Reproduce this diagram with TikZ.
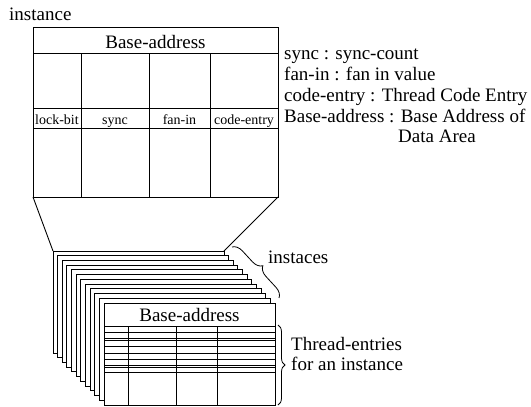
\documentclass[tikz,border=0pt]{standalone}
\usepackage{fontspec}
\setmainfont{Liberation Serif}[Ligatures=TeX]
\newfontfamily\tms{Liberation Serif}
\usetikzlibrary{decorations.pathreplacing}
\begin{document}
\begin{tikzpicture}[x=1pt,y=-1pt,
  box/.style={draw, line width=0.9pt, fill=white, inner sep=0pt, outer sep=0pt, anchor=north west},
  big/.style={font=\tms\fontsize{19}{21}\selectfont, inner sep=0pt},
  small/.style={font=\tms\fontsize{14}{16}\selectfont, inner sep=0pt},
  rule/.style={line width=0.9pt},
  fine/.style={line width=0.8pt},
  bracedeco/.style={decorate, decoration={brace, amplitude=#1}, line width=0.8pt}]
\useasboundingbox (0,0) rectangle (531,407);

% single instance record
\node[big, anchor=base west] (title) at (9,20) {instance};
\node[box, minimum width=245pt, minimum height=170pt] (inst) at (33,27) {};
\draw[rule] (33,53) -- (278,53);
\draw[rule] (33,108) -- (278,108);
\draw[rule] (33,128) -- (278,128);
\foreach \x in {81,149,210} \draw[rule] (\x,53) -- (\x,197);
\node[big, anchor=base] (ba) at (155.5,48) {Base-address};
\node[small, anchor=base] (lb) at (57,124) {lock-bit};
\node[small, anchor=base] (sy) at (115,124) {sync};
\node[small, anchor=base] (fi) at (179.5,124) {fan-in};
\node[small, anchor=base] (ce) at (244,124) {code-entry};

% legend
\node[big, anchor=base west] (l1) at (284,59.5) {sync : sync-count};
\node[big, anchor=base west] (l2) at (284,80.5) {fan-in : fan in value};
\node[big, anchor=base west] (l3) at (284,101.5) {code-entry : Thread Code Entry};
\node[big, anchor=base west] (l4) at (284,122) {Base-address : Base Address of};
\node[big, anchor=base west] (l5) at (398,142.5) {Data Area};

% stack of instance records
\foreach \i in {0,...,11}
  \node[box, minimum width=171pt, minimum height=102pt] (s\i) at ({53+4.64*\i},{251+4.73*\i}) {};

% projection lines
\draw[rule] (inst.south west) -- (s0.north west);
\draw[rule] (inst.south east) -- (s0.north east);

% front record: thread entries
\node[big, anchor=base] (fba) at (189.5,321.5) {Base-address};
\foreach \y in {326,332,338,340.5,346,353,359,365,367.5,372}
  \draw[fine] (s11.west |- 0,\y) -- (s11.east |- 0,\y);
\foreach \x in {128,176,217} \draw[fine] (\x,326) -- (\x,405);

% braces
\coordinate (ia) at (232,247);
\coordinate (ib) at (279,298);
\draw[bracedeco=10pt] (ia) -- (ib);
\node[big, anchor=base west] (inl) at (268,263.5) {instaces};

\coordinate (ta) at (278,325);
\coordinate (tb) at (278,405);
\draw[bracedeco=7pt] (ta) -- (tb);
\node[big, anchor=base west] (te1) at (291,350) {Thread-entries};
\node[big, anchor=base west] (te2) at (291,370) {for an instance};
\end{tikzpicture}
\end{document}
